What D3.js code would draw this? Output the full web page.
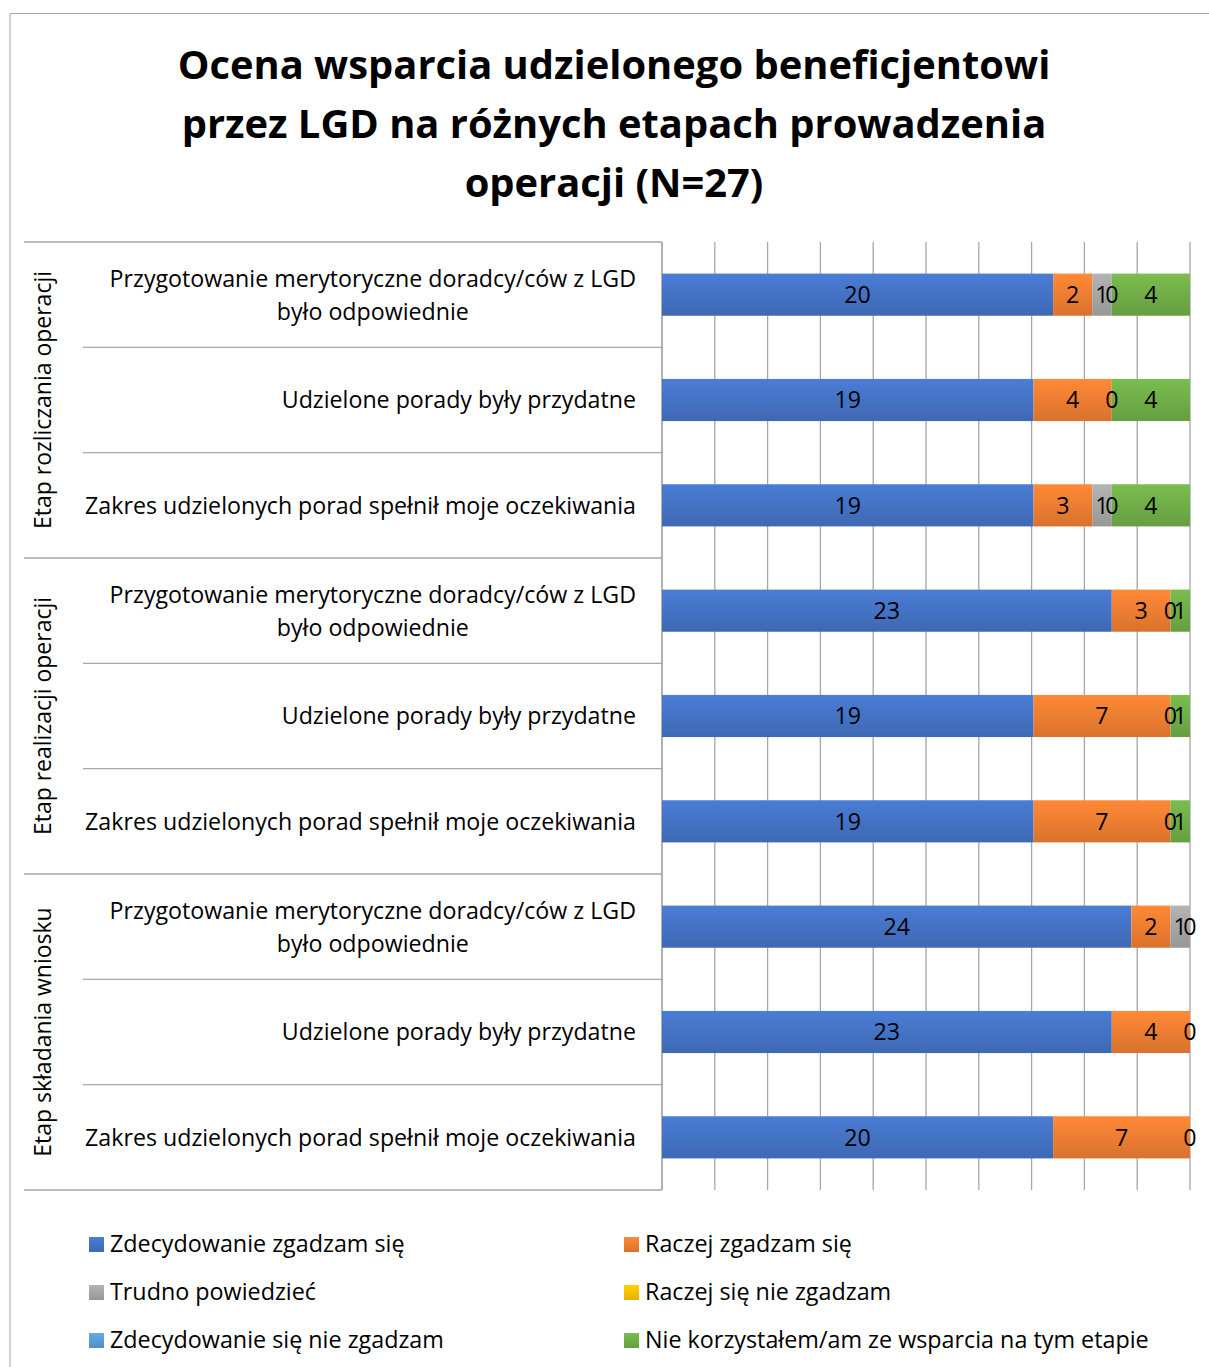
<!DOCTYPE html>
<html><head><meta charset="utf-8">
<script src="https://cdn.jsdelivr.net/npm/d3@7"></script>
<style>body{margin:0;background:#fff;} svg{display:block;font-family:"Open Sans",sans-serif;}</style>
</head><body>
<script>
const titleLines = ["Ocena wsparcia udzielonego beneficjentowi","przez LGD na różnych etapach prowadzenia","operacji (N=27)"];
const groups = ["Etap rozliczania operacji","Etap realizacji operacji","Etap składania wniosku"];
const items = ["Przygotowanie merytoryczne doradcy/ców z LGD|było odpowiednie","Udzielone porady były przydatne","Zakres udzielonych porad spełnił moje oczekiwania"];
const seriesNames = ["Zdecydowanie zgadzam się","Raczej zgadzam się","Trudno powiedzieć","Raczej się nie zgadzam","Zdecydowanie się nie zgadzam","Nie korzystałem/am ze wsparcia na tym etapie"];
const seriesColors = ["#4472C4","#ED7D31","#A5A5A5","#FFC000","#5B9BD5","#70AD47"];
// rows top to bottom; null = no label/no value
const zdecydowanieZgadzam = [20,19,19,23,19,19,24,23,20];
const raczejZgadzam       = [2,4,3,3,7,7,2,4,7];
const trudno              = [1,null,1,null,null,null,1,null,null];
const raczejNie           = [0,0,0,0,0,0,0,0,0];
const zdecydowanieNie     = [null,null,null,null,null,null,null,null,null];
const nieKorzystalem      = [4,4,4,1,1,1,null,null,null];
const seriesValues = [zdecydowanieZgadzam,raczejZgadzam,trudno,raczejNie,zdecydowanieNie,nieKorzystalem];
const xTicks = [0,0.1,0.2,0.3,0.4,0.5,0.6,0.7,0.8,0.9,1];

const W=1209,H=1367;
const svg=d3.select("body").append("svg").attr("width",W).attr("height",H);
const defs=svg.append("defs");
seriesColors.forEach((c,i)=>{
  const g=defs.append("linearGradient").attr("id","g"+i).attr("x1",0).attr("y1",0).attr("x2",0).attr("y2",1);
  g.append("stop").attr("offset","0%").attr("stop-color",d3.color(c).brighter(0.25));
  g.append("stop").attr("offset","100%").attr("stop-color",d3.color(c).darker(0.25));
});

// font-size fitting helper: size so that a text reaches a target width
function fitSize(str,target,weight){
  const t=svg.append("text").attr("font-size",100).attr("font-weight",weight||"normal").text(str);
  const w=t.node().getComputedTextLength(); t.remove();
  return 100*target/w;
}
const titleSize=fitSize(titleLines[0],873,"bold");
const labelSize=fitSize(items[2],551);
const legendSize=fitSize(seriesNames[5],504);
const groupSize=fitSize(groups[0],258);

// outer border
svg.append("path").attr("d",`M10,${H}V13.5H${W}`).attr("fill","none").attr("stroke","#a6a6a6").attr("stroke-width",1);

// title
svg.append("g").selectAll("text").data(titleLines).join("text")
  .attr("x",614).attr("y",(d,i)=>65+i*59).attr("dy","0.36em").attr("text-anchor","middle")
  .attr("font-size",titleSize).attr("font-weight","bold").attr("fill","#000").text(d=>d);

const x0=662,x1=1190,y0=242,y1=1190;
const rows=d3.range(9);
const x=d3.scaleLinear().domain([0,1]).range([x0,x1]);
const y=d3.scaleBand().domain(rows).range([y0,y1]).paddingInner(0.6).paddingOuter(0.3);
const yb=d3.scaleBand().domain(rows).range([y0,y1]);

// gridlines
svg.append("g").selectAll("line").data(xTicks).join("line")
  .attr("x1",d=>x(d)).attr("x2",d=>x(d)).attr("y1",y0).attr("y2",y1)
  .attr("stroke","#a6a6a6").attr("stroke-width",1.3);

// category axis structure
const ax=svg.append("g").attr("stroke","#a6a6a6").attr("stroke-width",1.3);
ax.append("line").attr("x1",x0).attr("x2",x0).attr("y1",y0).attr("y2",y1);
rows.concat([9]).forEach(r=>{
  const yy=r===9?y1:yb(r);
  const full=(r%3===0);
  ax.append("line").attr("x1",full?24:83).attr("x2",x0).attr("y1",yy).attr("y2",yy);
});

// stacked data
const totals=rows.map(r=>d3.sum(seriesValues,s=>s[r]||0));
const stacks=rows.map(r=>{let acc=0;return seriesValues.map((s,i)=>{const v=s[r];const a=acc;acc+=(v||0);return {i,r,v,a,b:acc};});});

const bars=svg.append("g");
stacks.forEach(st=>st.forEach(d=>{
  if(d.v){
    bars.append("rect").attr("x",x(d.a/totals[d.r])).attr("width",x(d.b/totals[d.r])-x(d.a/totals[d.r]))
      .attr("y",y(d.r)).attr("height",y.bandwidth()).attr("fill",`url(#g${d.i})`);
  }
}));
const labs=svg.append("g").attr("font-size",labelSize).attr("fill","#000").attr("text-anchor","middle");
stacks.forEach(st=>st.forEach(d=>{
  if(d.v!==null){
    labs.append("text").attr("x",x(((d.a+d.b)/2)/totals[d.r])).attr("y",y(d.r)+y.bandwidth()/2).attr("dy","0.36em").text(d.v);
  }
}));

// item labels
const il=svg.append("g").attr("font-size",labelSize).attr("fill","#000").attr("text-anchor","middle");
rows.forEach(r=>{
  const lines=items[r%3].split("|");
  const cy=yb(r)+yb.bandwidth()/2;
  const t=il.append("text");
  if(lines.length===1){
    t.attr("text-anchor","end").attr("x",636).attr("y",cy).attr("dy","0.36em").text(lines[0]);
  } else {
    lines.forEach((l,k)=>t.append("tspan").attr("x",371).attr("y",cy-16.5+k*33).attr("dy","0.36em").text(l));
    const ts=t.selectAll("tspan");
    const w0=ts.nodes()[0].getComputedTextLength();
    ts.attr("x",636-w0/2);
  }
});

// group labels
svg.append("g").selectAll("text").data(groups).join("text")
  .attr("transform",(d,i)=>`translate(43,${yb(i*3)+yb.bandwidth()*1.5}) rotate(-90)`)
  .attr("text-anchor","middle").attr("dy","0.36em").attr("font-size",groupSize).attr("fill","#000").text(d=>d);

// legend
const lg=svg.append("g");
seriesNames.forEach((n,i)=>{
  const col=i%2,row=Math.floor(i/2);
  const lx=col===0?89:624, ly=1244+row*48;
  lg.append("rect").attr("x",lx).attr("y",ly-7).attr("width",15).attr("height",15).attr("fill",`url(#g${i})`);
  lg.append("text").attr("x",lx+21).attr("y",ly).attr("dy","0.36em").attr("font-size",legendSize).attr("fill","#000").text(n);
});
</script>
</body></html>
